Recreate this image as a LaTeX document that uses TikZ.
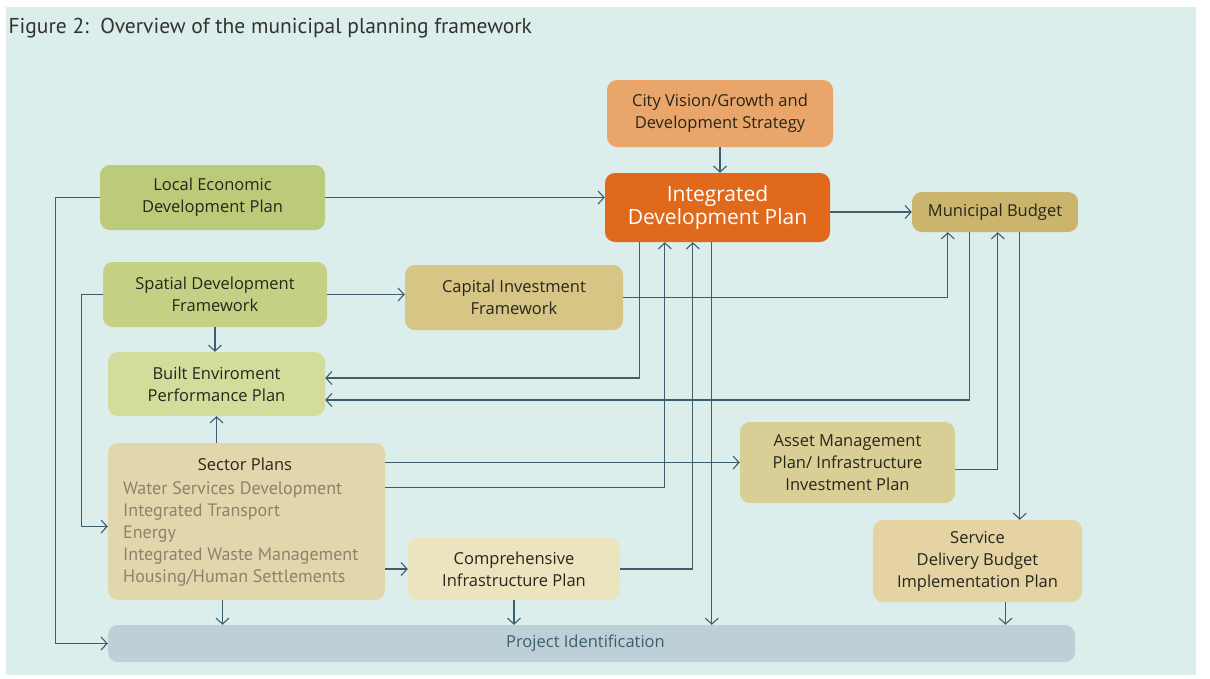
\documentclass[tikz,border=0pt]{standalone}
\usepackage{fontspec}
\setmainfont{Open Sans}
\newfontfamily\ptsans{PT Sans}
\usetikzlibrary{arrows.meta,calc}
\definecolor{screen}{HTML}{DCEEEC}
\definecolor{lnc}{HTML}{3F5E6C}
\definecolor{txt}{HTML}{26261C}
\definecolor{cvc}{HTML}{EAA66A}
\definecolor{idpc}{HTML}{E0691C}
\definecolor{mbc}{HTML}{CBB56C}
\definecolor{ledc}{HTML}{BCCB79}
\definecolor{sdfc}{HTML}{C4D184}
\definecolor{beppc}{HTML}{D3DC9A}
\definecolor{cifc}{HTML}{D6C585}
\definecolor{spc}{HTML}{E2D6AC}
\definecolor{cipc}{HTML}{ECE4BF}
\definecolor{ampc}{HTML}{D9CF96}
\definecolor{sdbc}{HTML}{E6D3A4}
\definecolor{pic}{HTML}{BDD0D8}
\definecolor{sptxt}{HTML}{8A846C}
\definecolor{titc}{HTML}{33332F}
\tikzset{
  box/.style={rounded corners=10pt, align=center, inner sep=0pt, text=txt,
    font=\fontsize{16.5}{22}\selectfont},
  conn/.style={draw=lnc, line width=1.1pt},
  arr/.style={conn, -{Straight Barb[length=6pt,width=13pt,line width=1.1pt]}}
}
\begin{document}
\begin{tikzpicture}[x=1pt,y=-1pt]
\useasboundingbox (0,0) rectangle (1210,678);
\fill[white] (0,0) rectangle (1210,678);
\fill[screen] (6,7) rectangle (1196,675);

\node[anchor=west, text=titc, font=\ptsans\fontsize{21.5}{24}\selectfont] (title) at (5,28) {Figure 2:\ \ Overview of the municipal planning framework};

% nodes
\node[box, fill=cvc, minimum width=226pt, minimum height=67pt] (cv) at (720,113.5) {City Vision/Growth and\\Development Strategy};
\node[box, fill=idpc, text=white, minimum width=225pt, minimum height=69pt, font=\fontsize{21}{23}\selectfont] (idp) at (717.5,207.5) {Integrated\\Development Plan};
\node[box, fill=mbc, minimum width=166pt, minimum height=40pt] (mb) at (995,212) {Municipal Budget};
\node[box, fill=ledc, minimum width=225pt, minimum height=65pt] (led) at (212.5,197.5) {Local Economic\\Development Plan};
\node[box, fill=sdfc, minimum width=224pt, minimum height=65pt] (sdf) at (215,294.5) {Spatial Development\\Framework};
\node[box, fill=cifc, minimum width=218pt, minimum height=65pt] (cif) at (514,297.5) {Capital Investment\\Framework};
\node[box, fill=beppc, minimum width=217pt, minimum height=64pt] (bepp) at (216.5,384) {Built Enviroment\\Performance Plan};
\node[box, fill=spc, minimum width=277pt, minimum height=157pt] (sp) at (246.5,521.5) {};
\node[text=txt, font=\fontsize{16.5}{22}\selectfont] (sptitle) at (245,464) {Sector Plans};
\node[anchor=north west, align=left, inner sep=0pt, text=sptxt, font=\ptsans\fontsize{18}{22}\selectfont] (splist) at (123,481) {Water Services Development\\Integrated Transport\\Energy\\Integrated Waste Management\\Housing/Human Settlements};
\node[box, fill=cipc, minimum width=212pt, minimum height=62pt] (cip) at (514,569) {Comprehensive\\Infrastructure Plan};
\node[box, fill=ampc, minimum width=215pt, minimum height=81pt] (amp) at (847.5,462.5) {Asset Management\\Plan/ Infrastructure\\Investment Plan};
\node[box, fill=sdbc, minimum width=209pt, minimum height=82pt] (sdbip) at (977.5,561) {Service\\Delivery Budget\\Implementation Plan};
\node[box, fill=pic, text=lnc, minimum width=967pt, minimum height=37pt] (pi) at (591.5,643.5) {\hspace*{-12pt}Project Identification};

% helper coordinates on node borders
\coordinate (idpA) at ($(idp.south west)+(35,0)$);
\coordinate (idpB) at ($(idp.south west)+(60,0)$);
\coordinate (idpC) at ($(idp.south west)+(88,0)$);
\coordinate (idpD) at ($(idp.south west)+(107,0)$);
\coordinate (mbA) at ($(mb.south west)+(36,0)$);
\coordinate (mbB) at ($(mb.south west)+(58,0)$);
\coordinate (mbC) at ($(mb.south west)+(86,0)$);
\coordinate (mbD) at ($(mb.south west)+(108,0)$);
\coordinate (spA) at ($(sp.east)+(0,-34)$);
\coordinate (spB) at ($(sp.south)+(-24,0)$);
\coordinate (sdA) at ($(sdbip.south)+(28,0)$);
\coordinate (ampA) at ($(amp.east)+(0,7)$);
\coordinate (beppA) at ($(bepp.east)+(0,-6)$);
\coordinate (beppB) at ($(bepp.east)+(0,16)$);
\coordinate (spW) at ($(sp.west)+(0,5)$);

% connectors
\draw[arr] (cv.south) -- (cv.south |- idp.north);
\draw[arr] (led.east) -- (led.east -| idp.west);
\draw[arr] (mb.west -| idp.east) -- (mb.west);
\draw[arr] (led.west) -- ++(-44,0) |- (pi.west);
\draw[arr] (sdf.west) -- ++(-21,0) |- (spW);
\draw[arr] (sdf.east) -- (sdf.east -| cif.west);
\draw[arr] (sdf.south) -- (sdf.south |- bepp.north);
\draw[arr] (bepp.south |- sp.north) -- (bepp.south);
\draw[arr] (cif.east) -| (mbA);
\draw[arr] (idpA) |- (beppA);
\draw[arr] (mbB) |- (beppB);
\draw[arr] (amp.west -| sp.east) -- (amp.west);
\draw[arr] (spA) -| (idpB);
\draw[arr] (ampA) -| (mbC);
\draw[arr] (mbD) -- (mbD |- sdbip.north);
\draw[arr] (sdA) -- (sdA |- pi.north);
\draw[arr] (cip.east) -| (idpC);
\draw[arr] (idpD) -- (idpD |- pi.north);
\draw[arr] (cip.west -| sp.east) -- (cip.west);
\draw[arr] (spB) -- (spB |- pi.north);
\draw[arr] (cip.south) -- (cip.south |- pi.north);
\end{tikzpicture}
\end{document}
